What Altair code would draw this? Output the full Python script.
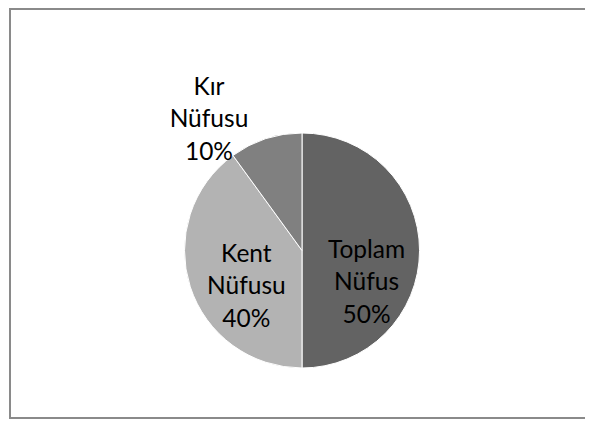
import math
import altair as alt
import pandas as pd

# ---- data ----
kategoriler = ["Toplam Nüfus", "Kent Nüfusu", "Kır Nüfusu"]
yuzdeler = [50, 40, 10]
renkler = ["#636363", "#b3b3b3", "#808080"]

df = pd.DataFrame({
    "kategori": kategoriler,
    "deger": yuzdeler,
    "sira": list(range(len(kategoriler))),
})
toplam = sum(yuzdeler)

W, H = 577, 415
CX, CY = 294, 242.5
R = 117.5
FONT = "Lato"
FS = 24.5
LH = 32.5

theta_scale = alt.Scale(domain=[0, toplam], range=[0, 2 * math.pi])

base = alt.Chart(df).transform_window(
    bitis="sum(deger)", sort=[alt.SortField("sira")], frame=[None, 0]
).transform_calculate(
    orta="datum.bitis - datum.deger / 2",
    etiket="datum.kategori + ' ' + datum.deger + '%'",
)

pie = base.mark_arc(outerRadius=R, stroke="white", strokeWidth=1).encode(
    theta=alt.Theta("deger:Q", stack=True, scale=theta_scale),
    order=alt.Order("sira:Q"),
    color=alt.Color("kategori:N", scale=alt.Scale(domain=kategoriler, range=renkler), legend=None),
    x=alt.value(CX),
    y=alt.value(CY),
)


def etiket(kat, radius, dx, dy):
    # dy is the offset of the middle line; Vega places the first line at the anchor
    return base.transform_filter(alt.datum.kategori == kat).mark_text(
        radius=radius, dx=dx, dy=dy - LH, lineBreak=" ", font=FONT, fontSize=FS,
        lineHeight=LH, color="black", align="center", baseline="middle",
    ).encode(
        theta=alt.Theta("orta:Q", stack=None, scale=theta_scale),
        text="etiket:N",
        x=alt.value(CX),
        y=alt.value(CY),
    )


t1 = etiket(kategoriler[0], 64.6, 0, 32.5)
t2 = etiket(kategoriler[1], 58.5, 0, 18.7)
t3 = etiket(kategoriler[2], 137, -50.7, 0)

kenar_df = pd.DataFrame({"k": [0]})
kenar = alt.Chart(kenar_df).mark_rule(color="#8a8a8a", strokeWidth=2)
sol = kenar.encode(x=alt.value(2), y=alt.value(0), y2=alt.value(411))
ust = kenar.encode(x=alt.value(1), x2=alt.value(W), y=alt.value(1))
alt_kenar = kenar.encode(x=alt.value(1), x2=alt.value(W), y=alt.value(410))

chart = alt.layer(sol, ust, alt_kenar, pie, t1, t2, t3).properties(
    width=W, height=H, autosize=alt.AutoSizeParams(type="none"), padding=0,
    background="white",
).configure_view(stroke=None)

chart.save("out.html", embed_options={"renderer": "svg", "actions": False})
